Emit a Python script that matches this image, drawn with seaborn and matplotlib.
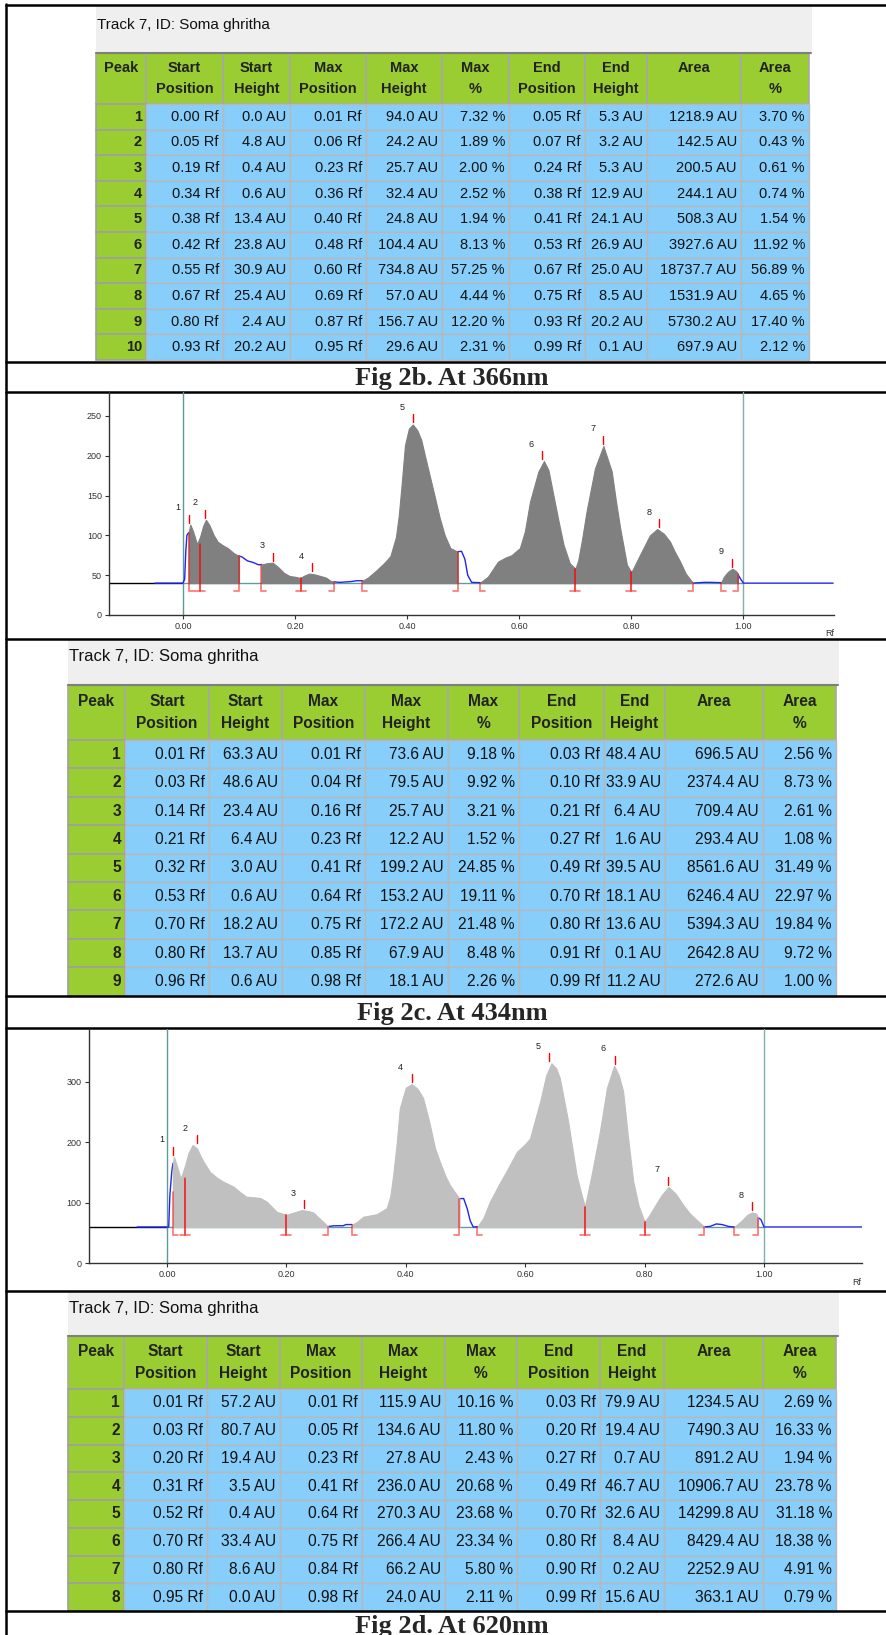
import numpy as np
import matplotlib
matplotlib.use("Agg")
import matplotlib.pyplot as plt
import seaborn as sns
from matplotlib.patches import Rectangle

# ---------------- data ----------------
headers = ["Peak", "Start\nPosition", "Start\nHeight", "Max\nPosition", "Max\nHeight",
           "Max\n%", "End\nPosition", "End\nHeight", "Area", "Area\n%"]
track_title = "Track 7, ID: Soma ghritha"

# table of Fig 2b (366 nm)
t1_start_pos = [0.00, 0.05, 0.19, 0.34, 0.38, 0.42, 0.55, 0.67, 0.80, 0.93]
t1_start_h = [0.0, 4.8, 0.4, 0.6, 13.4, 23.8, 30.9, 25.4, 2.4, 20.2]
t1_max_pos = [0.01, 0.06, 0.23, 0.36, 0.40, 0.48, 0.60, 0.69, 0.87, 0.95]
t1_max_h = [94.0, 24.2, 25.7, 32.4, 24.8, 104.4, 734.8, 57.0, 156.7, 29.6]
t1_max_pct = [7.32, 1.89, 2.00, 2.52, 1.94, 8.13, 57.25, 4.44, 12.20, 2.31]
t1_end_pos = [0.05, 0.07, 0.24, 0.38, 0.41, 0.53, 0.67, 0.75, 0.93, 0.99]
t1_end_h = [5.3, 3.2, 5.3, 12.9, 24.1, 26.9, 25.0, 8.5, 20.2, 0.1]
t1_area = [1218.9, 142.5, 200.5, 244.1, 508.3, 3927.6, 18737.7, 1531.9, 5730.2, 697.9]
t1_area_pct = [3.70, 0.43, 0.61, 0.74, 1.54, 11.92, 56.89, 4.65, 17.40, 2.12]

# table of Fig 2c (434 nm)
t2_start_pos = [0.01, 0.03, 0.14, 0.21, 0.32, 0.53, 0.70, 0.80, 0.96]
t2_start_h = [63.3, 48.6, 23.4, 6.4, 3.0, 0.6, 18.2, 13.7, 0.6]
t2_max_pos = [0.01, 0.04, 0.16, 0.23, 0.41, 0.64, 0.75, 0.85, 0.98]
t2_max_h = [73.6, 79.5, 25.7, 12.2, 199.2, 153.2, 172.2, 67.9, 18.1]
t2_max_pct = [9.18, 9.92, 3.21, 1.52, 24.85, 19.11, 21.48, 8.48, 2.26]
t2_end_pos = [0.03, 0.10, 0.21, 0.27, 0.49, 0.70, 0.80, 0.91, 0.99]
t2_end_h = [48.4, 33.9, 6.4, 1.6, 39.5, 18.1, 13.6, 0.1, 11.2]
t2_area = [696.5, 2374.4, 709.4, 293.4, 8561.6, 6246.4, 5394.3, 2642.8, 272.6]
t2_area_pct = [2.56, 8.73, 2.61, 1.08, 31.49, 22.97, 19.84, 9.72, 1.00]

# table of Fig 2d (620 nm)
t3_start_pos = [0.01, 0.03, 0.20, 0.31, 0.52, 0.70, 0.80, 0.95]
t3_start_h = [57.2, 80.7, 19.4, 3.5, 0.4, 33.4, 8.6, 0.0]
t3_max_pos = [0.01, 0.05, 0.23, 0.41, 0.64, 0.75, 0.84, 0.98]
t3_max_h = [115.9, 134.6, 27.8, 236.0, 270.3, 266.4, 66.2, 24.0]
t3_max_pct = [10.16, 11.80, 2.43, 20.68, 23.68, 23.34, 5.80, 2.11]
t3_end_pos = [0.03, 0.20, 0.27, 0.49, 0.70, 0.80, 0.90, 0.99]
t3_end_h = [79.9, 19.4, 0.7, 46.7, 32.6, 8.4, 0.2, 15.6]
t3_area = [1234.5, 7490.3, 891.2, 10906.7, 14299.8, 8429.4, 2252.9, 363.1]
t3_area_pct = [2.69, 16.33, 1.94, 23.78, 31.18, 18.38, 4.91, 0.79]

# densitogram at 434 nm
c1_base = 40
c1_rf = [-0.05, 0.0, 0.003, 0.005, 0.007, 0.01, 0.013, 0.018, 0.025, 0.03, 0.036, 0.041,
         0.047, 0.055, 0.062, 0.07, 0.08, 0.09, 0.10, 0.105, 0.115, 0.125, 0.135, 0.14,
         0.15, 0.16, 0.17, 0.18, 0.19, 0.20, 0.21, 0.215, 0.225, 0.235, 0.245, 0.255,
         0.263, 0.27, 0.28, 0.30, 0.31, 0.32, 0.33, 0.345, 0.36, 0.37, 0.38, 0.385, 0.39,
         0.396, 0.403, 0.41, 0.418, 0.425, 0.435, 0.447, 0.458, 0.467, 0.477, 0.49, 0.497,
         0.503, 0.508, 0.515, 0.53, 0.544, 0.562, 0.575, 0.586, 0.601, 0.61, 0.619, 0.634,
         0.644, 0.652, 0.661, 0.67, 0.679, 0.69, 0.70, 0.705, 0.712, 0.72, 0.735, 0.75,
         0.765, 0.772, 0.78, 0.792, 0.80, 0.815, 0.833, 0.846, 0.858, 0.869, 0.877, 0.887,
         0.897, 0.91, 0.93, 0.94, 0.96, 0.965, 0.972, 0.98, 0.987, 0.99, 0.995, 1.0, 1.16]
c1_au = [40, 40, 45, 80, 100, 103.3, 113.6, 105, 89, 97, 112, 119.5,
         113, 100, 92, 88, 84, 78, 74, 73, 68, 66, 63, 63.4,
         65, 65.7, 60, 53, 49, 48, 46.4, 49, 52, 51, 49, 47,
         43, 41.6, 41, 42, 43, 43, 47, 56, 66, 74, 98, 125, 163,
         213, 234, 239.2, 232, 220, 190, 155, 122, 100, 84, 79.5, 80,
         70, 50, 41, 40.6, 48, 67, 72, 75, 84, 105, 142, 180,
         193.2, 182, 150, 118, 88, 65, 58.1, 68, 95, 130, 184, 212.2,
         180, 145, 109, 63, 53.6, 75, 100, 107.9, 102, 92, 80, 67,
         52, 40.1, 41, 41, 40.6, 48, 54, 58.1, 55, 51.2, 45, 40, 40]

# densitogram at 620 nm
c2_base = 60
c2_rf = [-0.05, 0.003, 0.005, 0.008, 0.01, 0.0117, 0.017, 0.023, 0.03, 0.036, 0.043, 0.05,
         0.06, 0.072, 0.083, 0.094, 0.111, 0.122, 0.133, 0.145, 0.156, 0.167, 0.176, 0.184,
         0.20, 0.213, 0.226, 0.238, 0.245, 0.258, 0.27, 0.28, 0.295, 0.30, 0.31, 0.318,
         0.329, 0.351, 0.368, 0.374, 0.379, 0.385, 0.39, 0.40, 0.41, 0.42, 0.429, 0.439,
         0.449, 0.457, 0.466, 0.474, 0.49, 0.497, 0.503, 0.508, 0.513, 0.52, 0.53, 0.541,
         0.556, 0.572, 0.586, 0.598, 0.608, 0.616, 0.625, 0.635, 0.644, 0.652, 0.658, 0.665,
         0.672, 0.679, 0.686, 0.694, 0.70, 0.712, 0.725, 0.737, 0.749, 0.757, 0.764, 0.772,
         0.781, 0.79, 0.80, 0.807, 0.815, 0.828, 0.84, 0.852, 0.865, 0.876, 0.887, 0.90,
         0.91, 0.92, 0.93, 0.94, 0.95, 0.962, 0.972, 0.98, 0.987, 0.99, 0.995, 1.0, 1.165]
c2_au = [60, 60, 113, 150, 165, 176, 160, 140, 160, 182, 195.5, 190,
         170, 151, 142, 135, 127, 118, 110, 109, 108, 102, 93, 85,
         80, 84, 88, 86, 84, 72, 60.7, 62, 62, 64, 64, 68,
         77, 81, 91, 110, 146, 200, 256, 290, 296, 288, 273, 235,
         190, 168, 145, 129, 106.7, 107, 90, 70, 60, 60.4, 75, 102,
         130, 158, 184, 195, 206, 235, 267, 310, 330.3, 322, 306, 270,
         234, 190, 146, 115, 93.4, 150, 217, 290, 326.4, 310, 284, 210,
         135, 95, 68.4, 78, 91, 112, 126.2, 115, 96, 82, 72, 60.2,
         61, 65, 64, 61, 60, 70, 80, 84, 82, 75.6, 72, 60, 60]

# ---------------- page ----------------
sns.set_style("white")
plt.rcParams['font.family'] = ['Liberation Sans', 'DejaVu Sans']

W, H = 886, 1635
fig = plt.figure(figsize=(W / 100, H / 100), dpi=100)
page = fig.add_axes([0, 0, 1, 1])
page.set_xlim(0, W)
page.set_ylim(H, 0)
page.axis('off')

GREEN = '#9ACD32'
BLUE = '#87CEFA'


def px_axes(x0, y0, x1, y1):
    return fig.add_axes([x0 / W, 1 - y1 / H, (x1 - x0) / W, (y1 - y0) / H])


def draw_table(edges, title_top, header_top, row_top, row_h, cols, title_y, fs, tfs):
    x0, x1 = edges[0], edges[-1]
    page.add_patch(Rectangle((x0, title_top), x1 - x0 + 3, header_top - title_top,
                             facecolor='#EFEFEF', edgecolor='none', zorder=1))
    page.text(x0 + 1, title_y, track_title, fontsize=tfs, va='center', ha='left',
              color='#111111', zorder=3)
    header_bot = row_top
    hc = (header_top + header_bot) / 2
    off = (header_bot - header_top) * 0.2
    for i, lab in enumerate(headers):
        page.add_patch(Rectangle((edges[i], header_top), edges[i + 1] - edges[i],
                                 header_bot - header_top, facecolor=GREEN,
                                 edgecolor='#A8A8A8', lw=1.2, zorder=2))
        parts = lab.split("\n")
        xc = (edges[i] + edges[i + 1]) / 2
        for j, p in enumerate(parts):
            page.text(xc, hc - off + j * 2 * off, p, fontsize=fs, fontweight='bold',
                      ha='center', va='center', color='#222222', zorder=3)
    page.plot([x0, x1 + 2], [header_top, header_top], color='#7F7F7F', lw=1.5, zorder=3)
    n = len(cols[0])
    for r in range(n):
        yt = row_top + r * row_h
        yc = yt + row_h / 2
        page.add_patch(Rectangle((edges[0], yt), edges[1] - edges[0], row_h,
                                 facecolor=GREEN, edgecolor='#A0A0A0', lw=1.2, zorder=2))
        page.text(edges[1] - 4, yc, str(r + 1), fontsize=fs, fontweight='bold',
                  ha='right', va='center', color='#222222', zorder=3)
        for c, col in enumerate(cols):
            page.add_patch(Rectangle((edges[c + 1], yt), edges[c + 2] - edges[c + 1], row_h,
                                     facecolor=BLUE, edgecolor='#B8B8B8', lw=1, zorder=2))
            page.text(edges[c + 2] - 4, yc, col[r], fontsize=fs, ha='right', va='center',
                      color='#111111', zorder=3)


def fmt_cols(sp, sh, mp, mh, mpct, ep, eh, ar, apct):
    return [[f"{v:.2f} Rf" for v in sp], [f"{v:.1f} AU" for v in sh],
            [f"{v:.2f} Rf" for v in mp], [f"{v:.1f} AU" for v in mh],
            [f"{v:.2f} %" for v in mpct], [f"{v:.2f} Rf" for v in ep],
            [f"{v:.1f} AU" for v in eh], [f"{v:.1f} AU" for v in ar],
            [f"{v:.2f} %" for v in apct]]


def draw_chart(box, rf, au, base, fill, xlim, ylim, yticks, sp, sh, mp, mh, ep, eh):
    ax = px_axes(*box)
    ax.set_facecolor('none')
    rf = np.asarray(rf, float)
    au = np.asarray(au, float)
    # units per pixel
    ux = (xlim[1] - xlim[0]) / (box[2] - box[0])
    uy = (ylim[1] - ylim[0]) / (box[3] - box[1])
    ax.plot([xlim[0], 0], [base, base], color='black', lw=1, zorder=1)
    ax.plot([0, 1], [base, base], color='#5F9EA0', lw=1, zorder=1)
    ax.axvline(0, color='#5F9A96', lw=1, zorder=1)
    ax.axvline(1, color='#7FB0AC', lw=1, zorder=1)
    # blue trace only where no peak is integrated
    gaps = [(rf[0], sp[0])]
    for e, s in zip(ep[:-1], sp[1:]):
        if s - e > 1e-9:
            gaps.append((e, s))
    gaps.append((ep[-1], rf[-1]))
    for a, b in gaps:
        m = (rf >= a - 1e-9) & (rf <= b + 1e-9)
        sns.lineplot(x=rf[m], y=au[m], ax=ax, color='#2424F0', linewidth=1,
                     estimator=None, sort=False, zorder=2)
    for s, e in zip(sp, ep):
        m = (rf >= s - 1e-9) & (rf <= e + 1e-9)
        ax.fill_between(rf[m], base, au[m], facecolor=fill, edgecolor=fill, lw=0.8, zorder=3)
    foot = 8 * uy
    dx = 5 * ux
    for s, h in zip(sp, sh):
        ax.plot([s, s, s + dx], [base + h, base - foot, base - foot], color='red',
                alpha=0.55, lw=1.2, zorder=4, solid_joinstyle='miter')
    for e, h in zip(ep, eh):
        ax.plot([e, e, e - dx], [base + h, base - foot, base - foot], color='red',
                alpha=0.55, lw=1.2, zorder=4, solid_joinstyle='miter')
    for i, (m, h) in enumerate(zip(mp, mh)):
        top = base + h + 2 * uy
        ax.plot([m, m], [top, top + 8 * uy], color='red', lw=1, zorder=4)
        ax.text(m - 0.019, top + 15 * uy, str(i + 1), fontsize=6.5, ha='center',
                va='center', color='#222222')
    ax.set_xlim(*xlim)
    ax.set_ylim(*ylim)
    ax.set_xticks([0, 0.2, 0.4, 0.6, 0.8, 1.0])
    ax.set_xticklabels([f"{t:.2f}" for t in [0, 0.2, 0.4, 0.6, 0.8, 1.0]])
    ax.set_yticks(yticks)
    ax.tick_params(length=3, width=0.8, labelsize=6.5, pad=2, colors='#333333',
                   bottom=True, left=True)
    sns.despine(ax=ax)
    for sp_ in ['left', 'bottom']:
        ax.spines[sp_].set_color('#333333')
        ax.spines[sp_].set_linewidth(1)
    ax.set_xlabel("")
    ax.set_ylabel("")
    return ax


# frame lines
page.plot([6, 6], [4, H], color='black', lw=1.8)
for y in [5, 362, 392, 639, 996, 1028, 1291, 1611]:
    page.plot([6, W], [y, y], color='black', lw=1.8, zorder=5)

# table 1 + caption
draw_table([96, 146, 223, 290, 366, 442, 509, 585, 647, 741, 809], 6, 53, 104, 25.6,
           fmt_cols(t1_start_pos, t1_start_h, t1_max_pos, t1_max_h, t1_max_pct,
                    t1_end_pos, t1_end_h, t1_area, t1_area_pct), 25, 10.5, 11)
page.text(452, 378, "Fig 2b. At 366nm", family='Liberation Serif', fontweight='bold',
          fontsize=19, ha='center', va='center')

# chart 434 nm
draw_chart((109, 392, 834, 615), c1_rf, c1_au, c1_base, '#808080', (-0.132, 1.1615),
           (0, 280), [0, 50, 100, 150, 200, 250],
           t2_start_pos, t2_start_h, t2_max_pos, t2_max_h, t2_end_pos, t2_end_h)
page.text(834, 633, "Rf", fontsize=6.5, ha='right', va='center', color='#333333')

# table 2 + caption
draw_table([68, 125, 209, 282, 365, 448, 519, 604, 665, 763, 836], 640, 685, 740, 28.4,
           fmt_cols(t2_start_pos, t2_start_h, t2_max_pos, t2_max_h, t2_max_pct,
                    t2_end_pos, t2_end_h, t2_area, t2_area_pct), 656, 11.2, 12)
page.text(452, 1013, "Fig 2c. At 434nm", family='Liberation Serif', fontweight='bold',
          fontsize=19, ha='center', va='center')

# chart 620 nm
draw_chart((88.7, 1029, 861.7, 1263.3), c2_rf, c2_au, c2_base, '#C0C0C0', (-0.131, 1.1636),
           (0, 387), [0, 100, 200, 300],
           t3_start_pos, t3_start_h, t3_max_pos, t3_max_h, t3_end_pos, t3_end_h)
page.text(861, 1282, "Rf", fontsize=6.5, ha='right', va='center', color='#333333')

# table 3 + caption
draw_table([68, 124, 207, 280, 362, 445, 517, 600, 664, 763, 836], 1292, 1336, 1389, 27.75,
           fmt_cols(t3_start_pos, t3_start_h, t3_max_pos, t3_max_h, t3_max_pct,
                    t3_end_pos, t3_end_h, t3_area, t3_area_pct), 1308, 11.2, 12)
page.text(452, 1626, "Fig 2d. At 620nm", family='Liberation Serif', fontweight='bold',
          fontsize=19, ha='center', va='center')

fig.savefig("out.png", dpi=100)
